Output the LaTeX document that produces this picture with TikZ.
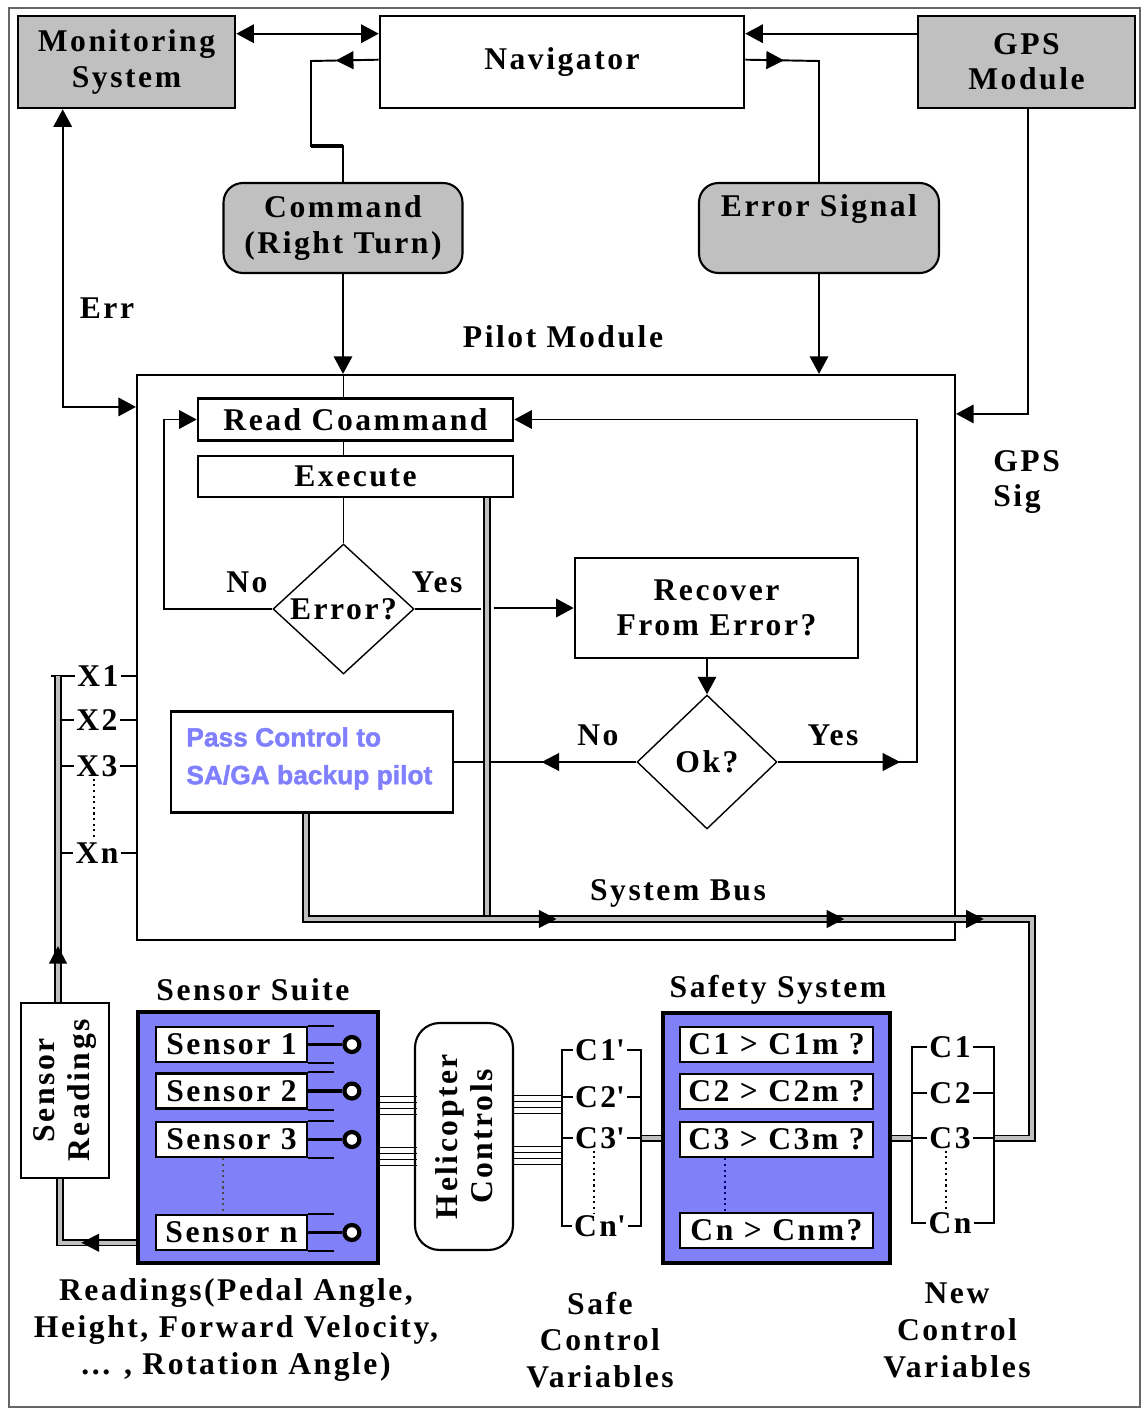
\documentclass[tikz,border=0pt]{standalone}
\usepackage{fontspec}
\setmainfont{Liberation Serif}[LetterSpace=8]
\newfontfamily\pixfont{Liberation Sans}[BoldFeatures={FakeBold=1.6}]
\usetikzlibrary{arrows.meta,calc,decorations.markings,shapes.geometric}
\definecolor{boxgray}{RGB}{192,192,192}
\definecolor{suiteblue}{RGB}{128,128,248}
\definecolor{passblue}{RGB}{128,128,255}
\newcommand{\arrtri}{\fill[black] (0pt,0pt) -- (-10pt,5.2pt) -- (-10pt,-5.2pt) -- cycle;}
\begin{document}
\begin{tikzpicture}[x=0.02cm, y=-0.02cm,
  >={Triangle[length=10pt,width=10.5pt]},
  every node/.style={font=\bfseries\fontsize{18}{20}\selectfont},
  box/.style={draw, line width=1.5pt, inner sep=0pt},
  conn/.style={line width=1.1pt},
  bus/.style={line width=0.9pt, double=black!25, double distance=2.2pt},
  midarr/.style={postaction={decorate}, decoration={markings, mark=at position #1 with {\arrtri}}},
  lab/.style={inner sep=1pt},
  dia/.style={diamond, draw, line width=0.8pt, inner sep=0pt},
  inbox/.style={box, fill=white, minimum height=0.7cm},
  port/.style={circle, draw, line width=2.4pt, fill=white, inner sep=0pt, minimum size=8.5pt, anchor=west},
  multi/.style={align=center, font=\bfseries\fontsize{18}{21}\selectfont}
]
\useasboundingbox (0,0) rectangle (1143,1410);
\draw[black!60, line width=1.2pt] (9,8) rectangle (1140,1407);

% ---- top row
\node[box, fill=boxgray, minimum width=4.34cm, minimum height=1.84cm, align=center] (mon) at (126.5,62) {Monitoring\\System};
\node[box, minimum width=7.28cm, minimum height=1.84cm] (nav) at (562,62) {Navigator};
\node[box, fill=boxgray, minimum width=4.34cm, minimum height=1.84cm, align=center] (gps) at (1026.5,62) {GPS\\Module};
\node[box, line width=1.2pt, fill=boxgray, rounded corners=11pt, minimum width=4.78cm, minimum height=1.8cm, align=center] (cmd) at (343,228) {Command\\(Right Turn)};
\node[box, line width=1.2pt, fill=boxgray, rounded corners=11pt, minimum width=4.8cm, minimum height=1.8cm, align=center] (errs) at (819,228) {Error Signal\\\strut};

\node (errlab) at (107,308) {Err};
\node (pilotlab) at (563,337) {Pilot Module};
\node[anchor=west, align=left, inner sep=0pt] (gpssig) at (993,482) {GPS\\Sig};

% ---- pilot module
\node[box, line width=1.3pt, minimum width=16.36cm, minimum height=11.3cm] (pilot) at (546,657.5) {};
\node[box, minimum width=6.3cm, minimum height=0.84cm] (read) at (355.5,419.5) {Read Coammand};
\node[box, minimum width=6.3cm, minimum height=0.82cm] (exec) at (355.5,476.5) {Execute};
\node[dia, minimum width=2.82cm, minimum height=2.6cm] (errd) at (343.5,609) {Error?};
\node (no1) at (247,582) {No};
\node (yes1) at (437,582) {Yes};
\node[box, minimum width=5.66cm, minimum height=2cm, align=center] (rec) at (716.5,608) {Recover\\From Error?};
\node[dia, minimum width=2.8cm, minimum height=2.68cm] (okd) at (707,762) {Ok?};
\node (no2) at (598,735) {No};
\node (yes2) at (833,735) {Yes};
\node[box, minimum width=5.64cm, minimum height=2.02cm] (pass) at (312,762) {};
\node[anchor=north west, text=passblue, font=\pixfont\bfseries\fontsize{15}{21.5}\selectfont, align=left, inner sep=0pt] (passtxt) at (186,727) {Pass Control to\\SA/GA backup pilot};
\node (buslab) at (678,893) {System Bus};

% ---- X labels
\node[lab] (x1) at (98,676) {X1};
\node[lab] (x2) at (97,720) {X2};
\node[lab] (x3) at (97,766) {X3};
\node[lab] (xn) at (97,853) {Xn};

% ---- bottom blocks
\node[box, line width=1.2pt, minimum width=1.76cm, minimum height=3.5cm] (sr) at (65,1090.5) {};
\node[rotate=90, align=center] (srt) at (sr.center) {Sensor\\Readings};

\node (suitelab) at (253,990) {Sensor Suite};
\node[box, line width=2pt, fill=suiteblue, minimum width=4.8cm, minimum height=5.02cm] (suite) at (258,1137.5) {};
\node[inbox, minimum width=3.02cm] (s1) at (231.5,1044.5) {Sensor 1};
\node[inbox, minimum width=3.02cm] (s2) at (231.5,1091) {Sensor 2};
\node[inbox, minimum width=3.02cm] (s3) at (231.5,1139.5) {Sensor 3};
\node[inbox, minimum width=3.02cm] (sn) at (231.5,1232.5) {Sensor n};

\node[box, line width=1.2pt, rounded corners=14pt, minimum width=1.96cm, minimum height=4.54cm] (heli) at (464,1136.5) {};
\node[rotate=90, align=center] (helit) at (heli.center) {Helicopter\\Controls};

\node[lab] (c1p) at (600,1050) {C1\textquotesingle};
\node[lab] (c2p) at (600,1097) {C2\textquotesingle};
\node[lab] (c3p) at (600,1138) {C3\textquotesingle};
\node[lab] (cnp) at (600,1226) {Cn\textquotesingle};

\node (safelab) at (778,990) {Safety System};
\node[box, line width=2pt, fill=suiteblue, minimum width=4.54cm, minimum height=5cm] (safety) at (776.5,1138) {};
\node[inbox, minimum width=3.86cm] (k1) at (776.5,1044.5) {C1 > C1m ?};
\node[inbox, minimum width=3.86cm] (k2) at (776.5,1091.5) {C2 > C2m ?};
\node[inbox, minimum width=3.86cm] (k3) at (776.5,1139.5) {C3 > C3m ?};
\node[inbox, minimum width=3.86cm] (kn) at (776.5,1230.5) {Cn > Cnm?};

\node[lab] (c1n) at (950,1047) {C1};
\node[lab] (c2n) at (950,1093) {C2};
\node[lab] (c3n) at (950,1138) {C3};
\node[lab] (cnn) at (950,1223) {Cn};

\node[multi] (readlab) at (236,1330) {Readings(Pedal Angle,\\Height, Forward Velocity,\\... , Rotation Angle)};
\node[multi] (safevar) at (600,1340) {Safe\\Control\\Variables};
\node[multi] (newvar) at (957,1330) {New\\Control\\Variables};

% ---- helper coordinates
\coordinate (sl) at (562,0);
\coordinate (sr2) at (641,0);
\coordinate (nl) at (912,0);
\coordinate (nr) at (994,0);
\coordinate (busx) at (58,0);
\coordinate (pbx) at (306,0);
\coordinate (ebx) at (487,0);
\coordinate (bx) at (1032,919);

% ---- top connectors
\draw[conn,<->] ($(mon.north east)+(0,19)$) -- ($(nav.north west)+(0,19)$);
\draw[conn,->] ($(gps.north west)+(0,19)$) -- ($(nav.north east)+(0,19)$);
\draw[conn, midarr=24.4pt] ($(nav.north west)+(0,45)$) -- (311,61) -- (311,146) -| (cmd.north);
\draw[line width=2.2pt] (311,146) -- (343,146);
\draw[conn, midarr=22pt] ($(nav.north east)+(0,45)$) -- (819,61) -- (errs.north);
\draw[conn,->] (cmd.south) -- (cmd.south |- pilot.north);
\draw[conn,->] (errs.south) -- (errs.south |- pilot.north);
\draw[conn,<->] ($(mon.south west)+(46,0)$) |- ($(pilot.north west)+(0,33)$);
\draw[conn,->] ($(gps.south west)+(111,0)$) |- ($(pilot.north east)+(0,40)$);

% ---- flow inside pilot module
\draw[conn] (pilot.north -| errd.north) -- (read.north -| errd.north);
\draw[conn] (read.south -| errd.north) -- (exec.north -| errd.north);
\draw[conn] (exec.south -| errd.north) -- (errd.north);
\draw[conn,->] (errd.west) -- ++(-108,0) |- (read.west);
\draw[conn] (errd.east) -- ++(66,0);
\draw[conn,->] ($(rec.west)+(-80,0)$) -- (rec.west);
\draw[conn,->] (rec.south -| okd.north) -- (okd.north);
\draw[conn, ->, midarr=69.7pt] (okd.east) -- ++(139,0) |- (read.east);
\draw[conn, midarr=53.9pt] (okd.west) -- (pass.east);

% ---- X ticks
\foreach \x in {x1,x2,x3,xn} \draw[conn] (\x.east) -- (\x.east -| pilot.west);
\draw[conn] ($(x1.west)+(-24,0)$) -- (x1.west);
\foreach \x in {x2,x3,xn} \draw[conn] ($(\x.west)+(-15,0)$) -- (\x.west);
\draw[dotted, line width=1.2pt] ($(x3.south)+(-3,0)$) -- ($(xn.north)+(-3,0)$);

% ---- buses
\draw[bus, midarr=31.8pt] (sr.north -| busx) -- (x1.west -| busx);
\draw[bus, midarr=31.2pt] ($(suite.south west)+(0,-22)$) -| ($(sr.south -| busx)+(2,0)$);
\draw[bus] (exec.south -| ebx) -- (ebx |- bx);
\draw[bus, postaction={decorate}, decoration={markings,
    mark=at position 202.4pt with {\arrtri},
    mark=at position 366.2pt with {\arrtri},
    mark=at position 445.6pt with {\arrtri}}]
  (pass.south -| pbx) -- (pbx |- bx) -- (bx) |- (c3n.east -| nr);
\draw[bus] (c3p.east -| sr2) -- (c3p.east -| safety.west);
\draw[bus] (c3n.west -| safety.east) -- (c3n.west -| nl);

% ---- sensor stubs
\foreach \s in {s1,s2,s3,sn} {
  \draw[conn] (\s.north east) -- ++(26,0);
  \draw[conn] (\s.south east) -- ++(26,0);
  \draw[line width=1.8pt] (\s.east) -- ++(34,0) node[port, name=p\s] {};
}
\draw[dotted, line width=1.2pt, black!70] ($(s3.south west)+(68,0)$) -- ($(sn.north west)+(68,0)$);
\draw[dotted, line width=1.2pt, blue!50!black] ($(k3.south west)+(46,0)$) -- ($(kn.north west)+(46,0)$);

% ---- wire bundles
\foreach \d in {-41,-35,-29,-23,10,16,22,28} {
  \draw[line width=0.9pt] ($(suite.east)+(0,\d)$) -- ++(37,0);
  \draw[line width=0.9pt] ($(heli.east)+(0,\d)$) -- ++(49,0);
}

% ---- brackets: safe control variables
\draw[conn] (c1p.west) -- (c1p.west -| sl) -- (cnp.west -| sl) -- (cnp.west);
\draw[conn] (c1p.east) -- (c1p.east -| sr2) -- (cnp.east -| sr2) -- (cnp.east);
\foreach \c in {c2p,c3p} {
  \draw[conn] (\c.west) -- (\c.west -| sl);
  \draw[conn] (\c.east) -- (\c.east -| sr2);
}
\draw[dotted, line width=1.2pt] ($(c3p.south)+(-6,0)$) -- ($(cnp.north)+(-6,0)$);

% ---- brackets: new control variables
\draw[conn] (c1n.west) -- (c1n.west -| nl) -- (cnn.west -| nl) -- (cnn.west);
\draw[conn] (c1n.east) -- (c1n.east -| nr) -- (cnn.east -| nr) -- (cnn.east);
\foreach \c in {c2n,c3n} {
  \draw[conn] (\c.west) -- (\c.west -| nl);
  \draw[conn] (\c.east) -- (\c.east -| nr);
}
\draw[dotted, line width=1.2pt] ($(c3n.south)+(-4,0)$) -- ($(cnn.north)+(-4,0)$);
\end{tikzpicture}
\end{document}
